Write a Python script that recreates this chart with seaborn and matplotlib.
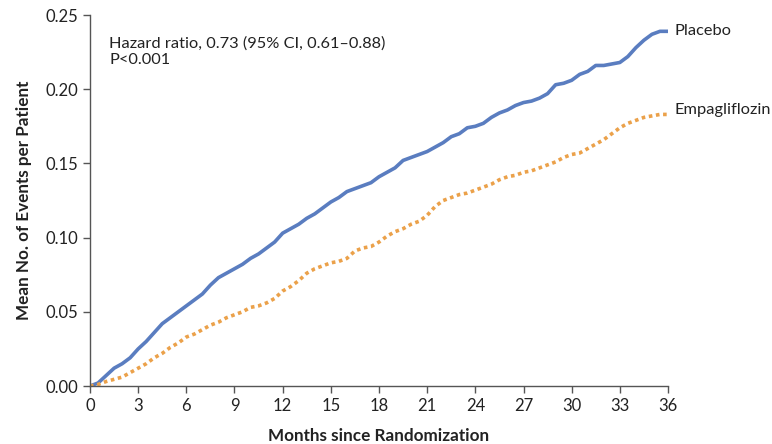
import numpy as np
import pandas as pd
import matplotlib
matplotlib.use("Agg")
import matplotlib.pyplot as plt
import seaborn as sns

months = [0, 0.5, 1, 1.5, 2, 2.5, 3, 3.5, 4, 4.5, 5, 5.5, 6, 6.5, 7, 7.5, 8, 8.5, 9, 9.5,
          10, 10.5, 11, 11.5, 12, 12.5, 13, 13.5, 14, 14.5, 15, 15.5, 16, 16.5, 17, 17.5,
          18, 18.5, 19, 19.5, 20, 20.5, 21, 21.5, 22, 22.5, 23, 23.5, 24, 24.5, 25, 25.5,
          26, 26.5, 27, 27.5, 28, 28.5, 29, 29.5, 30, 30.5, 31, 31.5, 32, 32.5, 33, 33.5,
          34, 34.5, 35, 35.5, 36]

placebo = [0, 0.002, 0.007, 0.012, 0.015, 0.019, 0.025, 0.030, 0.036, 0.042, 0.046, 0.050,
           0.054, 0.058, 0.062, 0.068, 0.073, 0.076, 0.079, 0.082, 0.086, 0.089, 0.093, 0.097,
           0.103, 0.106, 0.109, 0.113, 0.116, 0.120, 0.124, 0.127, 0.131, 0.133, 0.135, 0.137,
           0.141, 0.144, 0.147, 0.152, 0.154, 0.156, 0.158, 0.161, 0.164, 0.168, 0.170, 0.174,
           0.175, 0.177, 0.181, 0.184, 0.186, 0.189, 0.191, 0.192, 0.194, 0.197, 0.203, 0.204,
           0.206, 0.210, 0.212, 0.216, 0.216, 0.217, 0.218, 0.222, 0.228, 0.233, 0.237, 0.239,
           0.239]

empagliflozin = [0, 0.001, 0.003, 0.0045, 0.006, 0.009, 0.012, 0.015, 0.019, 0.022, 0.026, 0.029,
                 0.033, 0.035, 0.038, 0.041, 0.043, 0.046, 0.048, 0.050, 0.053, 0.054, 0.056, 0.059,
                 0.064, 0.067, 0.071, 0.076, 0.079, 0.081, 0.083, 0.084, 0.086, 0.091, 0.093, 0.094,
                 0.097, 0.101, 0.104, 0.106, 0.109, 0.111, 0.115, 0.121, 0.125, 0.127, 0.129, 0.130,
                 0.132, 0.134, 0.136, 0.139, 0.141, 0.142, 0.144, 0.145, 0.147, 0.149, 0.151, 0.154,
                 0.156, 0.157, 0.160, 0.163, 0.166, 0.170, 0.174, 0.177, 0.179, 0.181, 0.182, 0.183,
                 0.183]

x_ticks = [0, 3, 6, 9, 12, 15, 18, 21, 24, 27, 30, 33, 36]
y_ticks = [0.00, 0.05, 0.10, 0.15, 0.20, 0.25]

sns.set_theme(style="white")
plt.rcParams['font.family'] = ['Lato', 'DejaVu Sans']

fig = plt.figure(figsize=(7.72, 4.44), dpi=100)
ax = fig.add_axes([90/772, 1-386/444, 578/772, 371/444])

df_p = pd.DataFrame({"month": months, "value": placebo})
df_e = pd.DataFrame({"month": months, "value": empagliflozin})

blue = "#5a7dc0"
orange = "#eba14a"
sns.lineplot(data=df_p, x="month", y="value", ax=ax, color=blue, lw=2.6, estimator=None)
sns.lineplot(data=df_e, x="month", y="value", ax=ax, color=orange, lw=2.6,
             estimator=None, linestyle=(0, (1.0, 1.0)))

ax.set_xlim(0, 36)
ax.set_ylim(0, 0.25)
ax.set_xticks(x_ticks)
ax.set_xticklabels([str(t) for t in x_ticks])
ax.set_yticks(y_ticks)
ax.set_yticklabels([f"{t:.2f}" for t in y_ticks])

for s in ["top", "right"]:
    ax.spines[s].set_visible(False)
for s in ["left", "bottom"]:
    ax.spines[s].set_color("#555555")
    ax.spines[s].set_linewidth(1.0)

ax.tick_params(axis="both", direction="out", length=5, width=1, color="#555555",
               labelsize=12, labelcolor="#222222", bottom=True, left=True)

ax.set_xlabel("Months since Randomization", fontsize=12.3, fontweight="bold", color="#222222", labelpad=10)
ax.set_ylabel("Mean No. of Events per Patient", fontsize=12.3, fontweight="bold", color="#222222", labelpad=10)

ax.text(1.2, 0.2355, "Hazard ratio, 0.73 (95% CI, 0.61\u20130.88)\nP<0.001", fontsize=11.8,
        color="#222222", va="top", ha="left", linespacing=1.2)

ax.text(36.4, placebo[-1], "Placebo", fontsize=11.8, color="#222222", va="center", ha="left", clip_on=False)
ax.text(36.4, empagliflozin[-1] + 0.003, "Empagliflozin", fontsize=11.8, color="#222222",
        va="center", ha="left", clip_on=False)

ax.grid(False)
fig.savefig("out.png", dpi=100, facecolor="white")
